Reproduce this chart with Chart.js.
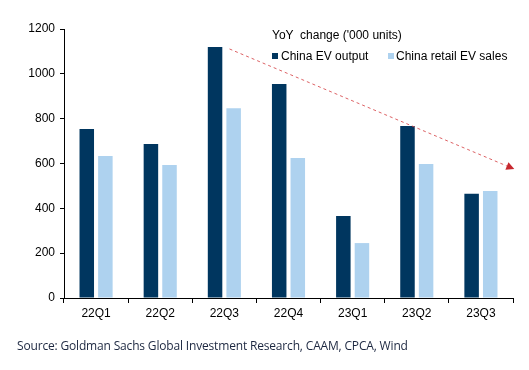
<!DOCTYPE html>
<html>
<head>
<meta charset="utf-8">
<script src="https://cdn.jsdelivr.net/npm/chart.js@4/dist/chart.umd.min.js"></script>
<style>
  body { margin: 0; background: #fff; }
  #wrap { position: relative; width: 529px; height: 370px; }
  .txt { position: absolute; font-family: "Liberation Sans", Arial, sans-serif; font-size: 12px; color: #000; white-space: pre; line-height: 14px; }
  .sq { position: absolute; width: 6px; height: 6px; }
  #source { position: absolute; left: 17px; top: 337px; font-family: "Open Sans", sans-serif; font-size: 12px; color: #1c2740; letter-spacing: -0.17px; white-space: pre; }
</style>
</head>
<body>
<div id="wrap">
  <canvas id="myChart" width="529" height="370"></canvas>
  <div class="txt" style="left:272px; top:28px;">YoY  change ('000 units)</div>
  <div class="sq" style="left:272px; top:53px; background:#00365f;"></div>
  <div class="txt" style="left:281px; top:49px;">China EV output</div>
  <div class="sq" style="left:388px; top:53px; background:#aed2ef;"></div>
  <div class="txt" style="left:396px; top:49px;">China retail EV sales</div>
  <div id="source">Source: Goldman Sachs Global Investment Research, CAAM, CPCA, Wind</div>
</div>
<script>
// quarters and YoY change ('000 units)
const quarters = ["22Q1", "22Q2", "22Q3", "22Q4", "23Q1", "23Q2", "23Q3"];
const evOutput = [754, 687, 1120, 955, 366, 767, 465];
const evRetail = [633, 593, 847, 624, 245, 598, 477];

// trend arrow, start and end in category index / value units
const trendX = [2.08, 6.52];
const trendY = [1111, 575];

let ctx = document.getElementById('myChart').getContext('2d');

// dashed red arrow drawn through the chart's own scales
const trendArrow = {
    id: 'trendArrow',
    afterDatasetsDraw(chart) {
        const xs = chart.scales.x, ys = chart.scales.y;
        const px = v => xs.getPixelForValue(0) + v * (xs.getPixelForValue(1) - xs.getPixelForValue(0));
        const x0 = px(trendX[0]), y0 = ys.getPixelForValue(trendY[0]);
        const x1 = px(trendX[1]), y1 = ys.getPixelForValue(trendY[1]);
        const c = chart.ctx;
        const ang = Math.atan2(y1 - y0, x1 - x0);
        const head = 8;
        const cs = Math.cos(ang), sn = Math.sin(ang);
        c.save();
        c.strokeStyle = 'rgba(214, 70, 74, 0.85)';
        c.lineWidth = 1;
        c.setLineDash([3, 3]);
        c.beginPath();
        c.moveTo(x0, y0);
        c.lineTo(x1 - cs * head, y1 - sn * head);
        c.stroke();
        c.setLineDash([]);
        c.fillStyle = '#c7282f';
        c.beginPath();
        c.moveTo(x1, y1);
        c.lineTo(x1 - cs * head + sn * 4, y1 - sn * head - cs * 4);
        c.lineTo(x1 - cs * head - sn * 4, y1 - sn * head + cs * 4);
        c.closePath();
        c.fill();
        c.restore();
    }
};

let myChart = new Chart(ctx, {
    type: 'bar',
    data: {
        labels: quarters,
        datasets: [{
            label: 'China EV output',
            data: evOutput,
            backgroundColor: '#00365f',
            categoryPercentage: 0.58,
            barPercentage: 0.78
        }, {
            label: 'China retail EV sales',
            data: evRetail,
            backgroundColor: '#aed2ef',
            categoryPercentage: 0.58,
            barPercentage: 0.78
        }]
    },
    options: {
        responsive: false,
        animation: false,
        layout: { padding: { left: 0, right: 16, top: 29, bottom: 50 } },
        plugins: {
            legend: { display: false },
            tooltip: { enabled: false }
        },
        scales: {
            x: {
                grid: { drawOnChartArea: false, drawTicks: true, tickLength: 5, color: '#000', offset: true },
                border: { color: '#000', width: 1 },
                ticks: { color: '#000', font: { family: 'Liberation Sans', size: 12 }, padding: 3 },
                afterFit: (s) => { s.height = 22; }
            },
            y: {
                min: 0,
                max: 1200,
                ticks: { stepSize: 200, color: '#000', font: { family: 'Liberation Sans', size: 12 }, padding: 5,
                         callback: (v) => String(v) },
                grid: { drawOnChartArea: false, drawTicks: true, tickLength: 4, color: '#000' },
                border: { color: '#000', width: 1 },
                afterFit: (s) => { s.width = 64; }
            }
        }
    },
    plugins: [trendArrow]
});
</script>
</body>
</html>
